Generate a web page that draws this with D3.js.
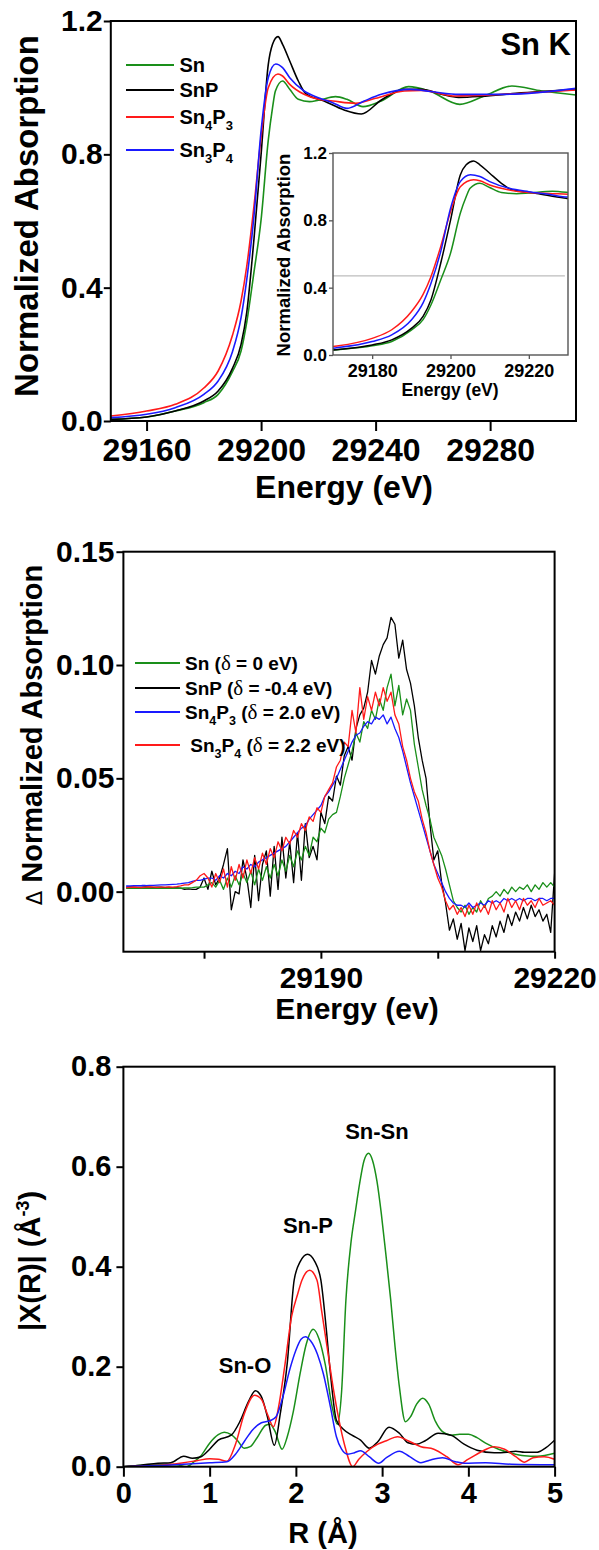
<!DOCTYPE html>
<html><head><meta charset="utf-8">
<script src="https://cdn.jsdelivr.net/npm/d3@7"></script>
<style>body{margin:0;background:#fff}</style>
</head><body><svg id="c" width="599" height="1550" style="display:block;background:#fff"></svg>
<script>
const FONT = "'Liberation Sans', Arial, sans-serif";
const seriesNames = ["Sn", "SnP", "Sn4P3", "Sn3P4"];
const colors = {Sn: "#1a8f1a", SnP: "#000000", Sn4P3: "#ff1a1a", Sn3P4: "#1a1aff"};
const colors2 = {Sn: "#1a8f1a", SnP: "#000000", Sn4P3: "#1a1aff", Sn3P4: "#ff1a1a"};

// Panel 1: XANES (energy eV, normalized absorption)
const xanesSn = [[29147.5,0.005],[29160,0.012],[29170,0.03],[29180,0.055],[29185,0.08],[29190,0.148],[29193,0.21],[29195,0.297],[29197.5,0.446],[29200,0.604],[29202.5,0.842],[29204,0.94],[29205,0.99],[29207.5,1.02],[29210,0.995],[29213,0.965],[29216.9,0.958],[29220,0.962],[29226,0.973],[29230,0.965],[29235.6,0.943],[29242,0.96],[29251.5,1.003],[29258.8,0.99],[29269.4,0.95],[29278,0.975],[29287.6,1.005],[29298,0.99],[29310,0.978]];
const xanesSnP = [[29147.5,0.005],[29160,0.012],[29170,0.03],[29180,0.06],[29185,0.09],[29190,0.158],[29193,0.23],[29195,0.327],[29197.5,0.545],[29200,0.80],[29202.5,1.069],[29204,1.13],[29205.9,1.153],[29207.5,1.13],[29210,1.08],[29213,1.02],[29215.5,0.983],[29222,0.96],[29229,0.933],[29235,0.921],[29242,0.963],[29250,0.995],[29256,0.995],[29263,0.98],[29269,0.971],[29277,0.974],[29289,0.983],[29310,0.995]];
const xanesSn4P3 = [[29147.5,0.015],[29160,0.03],[29170,0.05],[29180,0.099],[29185,0.15],[29190,0.257],[29193,0.36],[29195,0.465],[29197.5,0.644],[29200,0.851],[29202.5,1.0],[29205.9,1.041],[29207.5,1.035],[29210,1.01],[29215,0.98],[29220,0.965],[29225,0.96],[29233,0.953],[29240,0.968],[29250,0.99],[29256,0.992],[29268,0.975],[29280,0.978],[29295,0.985],[29310,0.993]];
const xanesSn3P4 = [[29147.5,0.01],[29160,0.02],[29170,0.04],[29180,0.08],[29185,0.12],[29190,0.208],[29193,0.31],[29195,0.425],[29197.5,0.614],[29200,0.871],[29202.5,1.03],[29205.1,1.071],[29207.5,1.06],[29210,1.03],[29215,0.99],[29220,0.97],[29225,0.955],[29230,0.938],[29236,0.96],[29242,0.98],[29252,0.995],[29268,0.98],[29285,0.98],[29310,0.998]];
const xanesTicks = [29160, 29200, 29240, 29280];
const xanesYTicks = [0, 0.4, 0.8, 1.2];
const insetTicks = [29180, 29200, 29220];
const insetRef = 0.47;

// Panel 2: difference spectra
const energyDiff = [29165,29165.5,29166,29166.5,29167,29167.5,29168,29168.5,29169,29169.5,
29170,29170.5,29171,29171.5,29172,29172.5,29173,29173.5,29174,29174.5,
29175,29175.5,29176,29176.5,29177,29177.5,29178,29178.5,29179,29179.5,
29180,29180.5,29181,29181.5,29182,29182.5,29183,29183.5,29184,29184.5,
29185,29185.5,29186,29186.5,29187,29187.5,29188,29188.5,29189,29189.5,
29190,29190.5,29191,29191.5,29192,29192.5,29193,29193.5,29194,29194.5,
29195,29195.5,29196,29196.5,29197,29197.5,29198,29198.5,29199,29199.5,
29200,29200.5,29201,29201.5,29202,29202.5,29203,29203.5,29204,29204.5,
29205,29205.5,29206,29206.5,29207,29207.5,29208,29208.5,29209,29209.5,
29210,29210.5,29211,29211.5,29212,29212.5,29213,29213.5,29214,29214.5,
29215,29215.5,29216,29216.5,29217,29217.5,29218,29218.5,29219,29219.5,
29220];
const diffSn = [0.0015,0.0015,0.0014,0.0015,0.0016,0.0015,0.0014,0.0015,0.0016,0.0015,
0.0015,0.0016,0.0015,0.0014,0.0015,0.0016,0.0017,0.0018,0.002,0.002,
0.002,0.003,0.004,0.002,0.005,0.001,0.006,0.002,0.007,0.003,
0.008,0.004,0.009,0.003,0.01,0.005,0.011,0.006,0.012,0.007,
0.014,0.009,0.016,0.011,0.018,0.014,0.02,0.016,0.024,0.022,
0.028,0.026,0.032,0.034,0.035,0.042,0.05,0.056,0.062,0.07,
0.066,0.075,0.072,0.08,0.076,0.085,0.08,0.09,0.096,0.082,
0.091,0.078,0.085,0.08,0.065,0.055,0.045,0.038,0.032,0.024,
0.02,0.016,0.01,0.003,-0.004,-0.007,-0.009,-0.006,-0.01,-0.007,
-0.009,-0.004,-0.007,-0.003,-0.002,0.0,-0.002,0.001,-0.001,0.002,
0.0,0.002,0.001,0.003,0.0,0.003,0.001,0.004,0.002,0.004,
0.002];
const diffSnP = [0.002,0.0021,0.002,0.0019,0.002,0.0021,0.002,0.0019,0.002,0.002,
0.0018,0.0019,0.0017,0.0016,0.0015,0.001,0.0012,0.001,0.001,0.002,
0.006,0.001,0.009,0.003,0.006,0.012,0.019,-0.008,0.0,-0.001,
0.014,0.006,-0.007,0.016,-0.004,0.012,0.018,-0.002,0.02,0.001,
0.024,0.006,0.022,0.004,0.026,0.005,0.03,0.015,0.02,0.014,
0.035,0.03,0.042,0.04,0.051,0.047,0.06,0.064,0.058,0.072,
0.078,0.081,0.088,0.102,0.096,0.104,0.109,0.112,0.121,0.118,
0.103,0.111,0.098,0.092,0.082,0.068,0.058,0.05,0.03,0.014,
0.018,0.004,-0.005,-0.017,-0.012,-0.021,-0.014,-0.026,-0.016,-0.022,
-0.015,-0.026,-0.019,-0.023,-0.015,-0.02,-0.013,-0.018,-0.01,-0.015,
-0.009,-0.013,-0.007,-0.012,-0.006,-0.011,-0.008,-0.013,-0.01,-0.018,
0.008];
const diffSn4P3 = [0.0025,0.0025,0.0026,0.0026,0.0027,0.0027,0.0028,0.0028,0.0029,0.003,
0.003,0.0031,0.0032,0.0033,0.0035,0.0038,0.004,0.0045,0.005,0.005,
0.0055,0.006,0.006,0.005,0.007,0.006,0.008,0.007,0.009,0.008,
0.011,0.01,0.012,0.011,0.013,0.014,0.015,0.016,0.017,0.018,
0.019,0.02,0.022,0.024,0.026,0.028,0.029,0.032,0.034,0.036,
0.038,0.042,0.044,0.047,0.05,0.054,0.058,0.062,0.066,0.069,
0.07,0.073,0.075,0.074,0.077,0.076,0.078,0.074,0.077,0.072,
0.068,0.062,0.055,0.048,0.042,0.036,0.03,0.024,0.018,0.012,
0.008,0.004,0.0,-0.003,-0.005,-0.006,-0.006,-0.007,-0.005,-0.007,
-0.006,-0.005,-0.006,-0.004,-0.005,-0.004,-0.005,-0.003,-0.004,-0.003,
-0.004,-0.003,-0.004,-0.003,-0.003,-0.004,-0.003,-0.003,-0.004,-0.003,
-0.003];
const diffSn3P4 = [0.0018,0.0019,0.002,0.0019,0.0018,0.002,0.0021,0.002,0.0019,0.002,
0.002,0.0021,0.002,0.0022,0.0025,0.003,0.003,0.004,0.005,0.007,
0.008,0.006,0.002,0.008,0.004,0.01,0.002,0.011,0.005,0.012,
0.006,0.014,0.008,0.015,0.01,0.017,0.012,0.019,0.015,0.022,
0.018,0.024,0.021,0.027,0.024,0.03,0.027,0.033,0.031,0.037,
0.035,0.042,0.045,0.048,0.055,0.058,0.066,0.064,0.08,0.07,
0.09,0.076,0.086,0.08,0.088,0.082,0.09,0.084,0.088,0.078,
0.074,0.064,0.058,0.05,0.044,0.04,0.032,0.026,0.018,0.012,
0.006,0.002,-0.004,-0.008,-0.006,-0.01,-0.007,-0.011,-0.006,-0.01,
-0.005,-0.009,-0.006,-0.01,-0.004,-0.008,-0.005,-0.009,-0.003,-0.007,
-0.004,-0.008,-0.003,-0.006,-0.004,-0.007,-0.003,-0.006,-0.005,-0.004,
-0.006];
const diffXTicks = [29175, 29190, 29205, 29220];
const diffXLabels = [29190, 29220];
const diffYTicks = [0, 0.05, 0.10, 0.15];
const diffLegend = [
  {key: "Sn", parts: [["Sn"]], tail: " = 0 eV)"},
  {key: "SnP", parts: [["SnP"]], tail: " = -0.4 eV)"},
  {key: "Sn4P3", parts: [["Sn"],["4","sub"],["P"],["3","sub"]], tail: " = 2.0 eV)"},
  {key: "Sn3P4", parts: [[" Sn"],["3","sub"],["P"],["4","sub"]], tail: " = 2.2 eV)"}
];

// Panel 3: FT-EXAFS (R in Å, |X(R)|)
const ftSn = [[0,0],[0.3,0.004],[0.5,0.005],[0.62,0.004],[0.73,0.0],[0.82,0.01],[0.9,0.022],[1.0,0.047],[1.1,0.064],[1.17,0.069],[1.25,0.064],[1.32,0.053],[1.4,0.037],[1.47,0.04],[1.55,0.058],[1.65,0.083],[1.7,0.085],[1.76,0.07],[1.84,0.035],[1.9,0.06],[1.97,0.11],[2.05,0.187],[2.12,0.245],[2.2,0.275],[2.27,0.255],[2.34,0.205],[2.42,0.12],[2.48,0.085],[2.53,0.15],[2.58,0.333],[2.64,0.45],[2.69,0.51],[2.74,0.567],[2.79,0.612],[2.843,0.627],[2.89,0.612],[2.94,0.571],[2.99,0.507],[3.04,0.43],[3.1,0.333],[3.15,0.24],[3.2,0.16],[3.27,0.09],[3.33,0.1],[3.4,0.125],[3.47,0.137],[3.54,0.125],[3.62,0.09],[3.7,0.07],[3.8,0.063],[3.9,0.065],[4.0,0.065],[4.1,0.058],[4.2,0.047],[4.35,0.035],[4.5,0.027],[4.65,0.022],[4.8,0.021],[5.0,0.027]];
const ftSnP = [[0,0],[0.2,0.003],[0.4,0.007],[0.55,0.008],[0.7,0.021],[0.8,0.017],[0.9,0.02],[1.0,0.035],[1.1,0.053],[1.25,0.063],[1.35,0.09],[1.45,0.13],[1.53,0.152],[1.6,0.14],[1.67,0.1],[1.75,0.043],[1.82,0.107],[1.9,0.207],[1.98,0.373],[2.05,0.41],[2.135,0.425],[2.22,0.41],[2.29,0.373],[2.35,0.28],[2.4,0.187],[2.47,0.093],[2.55,0.075],[2.65,0.063],[2.75,0.053],[2.85,0.037],[2.95,0.05],[3.08,0.079],[3.2,0.067],[3.3,0.048],[3.4,0.045],[3.5,0.052],[3.65,0.067],[3.8,0.063],[3.95,0.045],[4.1,0.033],[4.3,0.028],[4.45,0.029],[4.55,0.031],[4.65,0.029],[4.8,0.029],[4.9,0.038],[5.0,0.053]];
const ftSn4P3 = [[0,0],[0.3,0.002],[0.5,0.004],[0.7,0.008],[0.85,0.012],[1.0,0.016],[1.1,0.015],[1.2,0.011],[1.3,0.045],[1.4,0.105],[1.52,0.143],[1.6,0.135],[1.67,0.105],[1.74,0.08],[1.8,0.12],[1.87,0.2],[1.95,0.3],[2.02,0.345],[2.07,0.373],[2.16,0.393],[2.245,0.373],[2.3,0.31],[2.37,0.23],[2.44,0.15],[2.5,0.093],[2.57,0.04],[2.66,0.0],[2.73,0.015],[2.82,0.03],[2.95,0.045],[3.05,0.052],[3.18,0.06],[3.3,0.052],[3.45,0.04],[3.6,0.035],[3.75,0.02],[3.88,0.004],[4.0,0.015],[4.15,0.03],[4.3,0.04],[4.42,0.035],[4.55,0.02],[4.65,0.009],[4.75,0.018],[4.88,0.02],[5.0,0.015]];
const ftSn3P4 = [[0,0],[0.3,0.002],[0.5,0.003],[0.7,0.005],[0.9,0.007],[1.0,0.008],[1.2,0.01],[1.3,0.025],[1.4,0.05],[1.5,0.074],[1.6,0.088],[1.7,0.092],[1.77,0.1],[1.85,0.14],[1.93,0.195],[2.0,0.233],[2.06,0.255],[2.11,0.26],[2.17,0.252],[2.25,0.225],[2.32,0.185],[2.4,0.12],[2.47,0.06],[2.53,0.035],[2.6,0.025],[2.68,0.028],[2.75,0.032],[2.85,0.02],[2.96,0.007],[3.05,0.018],[3.2,0.031],[3.32,0.02],[3.45,0.008],[3.55,0.013],[3.7,0.018],[3.85,0.01],[3.95,0.007],[4.2,0.008],[4.5,0.005],[5.0,0.004]];
const ftXTicks = [0, 1, 2, 3, 4, 5];
const ftYTicks = [0, 0.2, 0.4, 0.6, 0.8];
const ftLabels = [{t: "Sn-Sn", r: 2.94, v: 0.655}, {t: "Sn-P", r: 2.14, v: 0.467}, {t: "Sn-O", r: 1.41, v: 0.187}];

const svg = d3.select("#c");

function styleAxis(g, fs, color) {
  g.attr("font-family", FONT).attr("font-size", fs).attr("font-weight", "bold");
  g.select(".domain").remove();
  g.selectAll(".tick line").attr("stroke", color || "#000").attr("stroke-width", 2);
  g.selectAll(".tick text").attr("fill", "#000");
}
function frame(x0, y0, x1, y1, color, w) {
  svg.append("rect").attr("x", x0).attr("y", y0).attr("width", x1 - x0).attr("height", y1 - y0)
    .attr("fill", "none").attr("stroke", color).attr("stroke-width", w);
}
function txt(x, y, s, fs, anchor, rot) {
  const t = svg.append("text").attr("font-family", FONT).attr("font-weight", "bold")
    .attr("font-size", fs).attr("text-anchor", anchor || "middle").attr("fill", "#000");
  if (rot) t.attr("transform", `translate(${x},${y}) rotate(-90)`);
  else t.attr("x", x).attr("y", y);
  if (s !== null) t.text(s);
  return t;
}

// ============ PANEL 1 ============
const x1 = d3.scaleLinear().domain([29147.5, 29310]).range([110.8, 576]);
const y1 = d3.scaleLinear().domain([0, 1.2]).range([421, 21]);
svg.append("defs").append("clipPath").attr("id", "clip1")
  .append("rect").attr("x", 110.8).attr("y", 21).attr("width", 576 - 110.8).attr("height", 400);
const line1 = d3.line().x(d => x1(d[0])).y(d => y1(d[1])).curve(d3.curveMonotoneX);
const xanesAll = {Sn: xanesSn, SnP: xanesSnP, Sn4P3: xanesSn4P3, Sn3P4: xanesSn3P4};
const g1 = svg.append("g").attr("clip-path", "url(#clip1)");
["Sn", "SnP", "Sn4P3", "Sn3P4"].forEach(k => {
  g1.append("path").datum(xanesAll[k]).attr("d", line1).attr("fill", "none")
    .attr("stroke", colors[k]).attr("stroke-width", 1.6);
});
frame(110.8, 21, 576, 421, "#000", 2);
styleAxis(svg.append("g").attr("transform", "translate(0,421)")
  .call(d3.axisBottom(x1).tickValues(xanesTicks).tickSize(10).tickPadding(7).tickFormat(d3.format("d"))), 32);
styleAxis(svg.append("g").attr("transform", "translate(110.8,0)")
  .call(d3.axisLeft(y1).tickValues(xanesYTicks).tickSize(7).tickPadding(1).tickFormat(d3.format(".1f"))), 30);
txt(344, 498, "Energy (eV)", 32);
txt(38, 216, "Normalized Absorption", 33, "middle", true);
txt(571, 55, "Sn K", 31, "end");

// legend panel 1
const leg1Y = [65, 90, 117, 150];
const leg1Parts = {Sn: [["Sn"]], SnP: [["SnP"]], Sn4P3: [["Sn"],["4","sub"],["P"],["3","sub"]], Sn3P4: [["Sn"],["3","sub"],["P"],["4","sub"]]};
seriesNames.forEach((k, i) => {
  svg.append("line").attr("x1", 126).attr("x2", 174).attr("y1", leg1Y[i]).attr("y2", leg1Y[i])
    .attr("stroke", colors[k]).attr("stroke-width", 1.8);
  const t = txt(179.5, leg1Y[i] + 7, null, 20, "start");
  let sub = false;
  leg1Parts[k].forEach(p => {
    const ts = t.append("tspan").text(p[0]);
    if (p[1] === "sub") { ts.attr("font-size", 13).attr("dy", 6); sub = true; }
    else if (sub) { ts.attr("dy", -6); sub = false; }
  });
});

// inset
const xi = d3.scaleLinear().domain([29170, 29230]).range([333, 568]);
const yi = d3.scaleLinear().domain([0, 1.2]).range([355, 153]);
svg.append("rect").attr("x", 333).attr("y", 153).attr("width", 235).attr("height", 202).attr("fill", "#fff");
svg.select("defs").append("clipPath").attr("id", "clipi")
  .append("rect").attr("x", 333).attr("y", 153).attr("width", 235).attr("height", 202);
svg.append("line").attr("x1", xi(29170)).attr("x2", xi(29229.2)).attr("y1", yi(insetRef)).attr("y2", yi(insetRef))
  .attr("stroke", "#bdbdbd").attr("stroke-width", 1.3);
const linei = d3.line().x(d => xi(d[0])).y(d => yi(d[1])).curve(d3.curveMonotoneX);
const gi = svg.append("g").attr("clip-path", "url(#clipi)");
["Sn", "SnP", "Sn4P3", "Sn3P4"].forEach(k => {
  gi.append("path").datum(xanesAll[k]).attr("d", linei).attr("fill", "none")
    .attr("stroke", colors[k]).attr("stroke-width", 1.5);
});
frame(333, 153, 568, 355, "#555", 1.4);
const ax1 = svg.append("g").attr("transform", "translate(0,355)")
  .call(d3.axisBottom(xi).tickValues(insetTicks).tickSize(4).tickPadding(5).tickFormat(d3.format("d")));
styleAxis(ax1, 18, "#555"); ax1.selectAll(".tick line").attr("stroke-width", 1.3);
const ay1 = svg.append("g").attr("transform", "translate(333,0)")
  .call(d3.axisLeft(yi).tickValues(xanesYTicks).tickSize(4).tickPadding(2).tickFormat(d3.format(".1f")));
styleAxis(ay1, 17, "#555"); ay1.selectAll(".tick line").attr("stroke-width", 1.3);
txt(450, 396, "Energy (eV)", 17.5);
txt(290, 255, "Normalized Absorption", 18.5, "middle", true);

// ============ PANEL 2 ============
const x2 = d3.scaleLinear().domain([29164.65, 29220]).range([123.4, 554.6]);
const y2 = d3.scaleLinear().domain([-0.0265, 0.15]).range([951.7, 551.7]);
svg.select("defs").append("clipPath").attr("id", "clip2")
  .append("rect").attr("x", 123.4).attr("y", 551.7).attr("width", 554.6 - 123.4).attr("height", 400);
const diffAll = {Sn: diffSn, SnP: diffSnP, Sn4P3: diffSn4P3, Sn3P4: diffSn3P4};
const line2 = d3.line().x((d, i) => x2(energyDiff[i])).y(d => y2(d));
const g2 = svg.append("g").attr("clip-path", "url(#clip2)");
["SnP", "Sn", "Sn4P3", "Sn3P4"].forEach(k => {
  g2.append("path").datum(diffAll[k]).attr("d", line2).attr("fill", "none")
    .attr("stroke", colors2[k]).attr("stroke-width", 1.3).attr("stroke-linejoin", "round");
});
frame(123.4, 551.7, 554.6, 951.7, "#000", 2);
styleAxis(svg.append("g").attr("transform", "translate(0,951.7)")
  .call(d3.axisBottom(x2).tickValues(diffXTicks).tickSize(7).tickPadding(8)
    .tickFormat(d => diffXLabels.includes(d) ? d3.format("d")(d) : "")), 30);
styleAxis(svg.append("g").attr("transform", "translate(123.4,0)")
  .call(d3.axisLeft(y2).tickValues(diffYTicks).tickSize(7).tickPadding(2).tickFormat(d3.format(".2f"))), 30);
txt(357, 1019, "Energy (ev)", 30);
const t2 = txt(42, 735, null, 29, "middle", true);
t2.append("tspan").text("Δ").attr("font-weight", "normal").attr("font-family", "'DejaVu Sans', sans-serif").attr("font-size", 21);
t2.append("tspan").text(" Normalized Absorption");

// legend panel 2
const leg2Y = [663, 688, 712, 745];
diffLegend.forEach((e, i) => {
  svg.append("line").attr("x1", 135).attr("x2", 180).attr("y1", leg2Y[i]).attr("y2", leg2Y[i])
    .attr("stroke", colors2[e.key]).attr("stroke-width", 1.8);
  const t = txt(185, leg2Y[i] + 7, null, 19, "start").attr("xml:space", "preserve").style("white-space", "pre");
  let sub = false;
  e.parts.forEach(p => {
    const ts = t.append("tspan").text(p[0]);
    if (p[1] === "sub") { ts.attr("font-size", 12.5).attr("dy", 6); sub = true; }
    else if (sub) { ts.attr("dy", -6); sub = false; }
  });
  const o = t.append("tspan").text(" (");
  if (sub) { o.attr("dy", -6); sub = false; }
  t.append("tspan").text("δ").attr("font-family", "'Liberation Serif', serif").attr("font-weight", "normal").attr("font-size", 21);
  t.append("tspan").text(e.tail);
});

// ============ PANEL 3 ============
const x3 = d3.scaleLinear().domain([0, 5]).range([123.4, 554.6]);
const y3 = d3.scaleLinear().domain([0, 0.8]).range([1466.7, 1066.7]);
svg.select("defs").append("clipPath").attr("id", "clip3")
  .append("rect").attr("x", 123.4).attr("y", 1066.7).attr("width", 554.6 - 123.4).attr("height", 400);
const ftAll = {Sn: ftSn, SnP: ftSnP, Sn4P3: ftSn4P3, Sn3P4: ftSn3P4};
const line3 = d3.line().x(d => x3(d[0])).y(d => y3(d[1])).curve(d3.curveMonotoneX);
const g3 = svg.append("g").attr("clip-path", "url(#clip3)");
["Sn", "SnP", "Sn4P3", "Sn3P4"].forEach(k => {
  g3.append("path").datum(ftAll[k]).attr("d", line3).attr("fill", "none")
    .attr("stroke", colors[k]).attr("stroke-width", 1.5);
});
frame(123.4, 1066.7, 554.6, 1466.7, "#000", 2);
styleAxis(svg.append("g").attr("transform", "translate(0,1466.7)")
  .call(d3.axisBottom(x3).tickValues(ftXTicks).tickSize(10).tickPadding(6).tickFormat(d3.format("d"))), 29);
styleAxis(svg.append("g").attr("transform", "translate(123.4,0)")
  .call(d3.axisLeft(y3).tickValues(ftYTicks).tickSize(7).tickPadding(5).tickFormat(d3.format(".1f"))), 29);
txt(323, 1543, "R (Å)", 29);
const t3 = txt(40, 1261, null, 29, "middle", true);
t3.append("tspan").text("|X(R)| (Å");
t3.append("tspan").text("-3").attr("font-size", 18).attr("dy", -11);
t3.append("tspan").text(")").attr("dy", 11);
ftLabels.forEach(l => txt(x3(l.r), y3(l.v), l.t, 22));
</script>
</body></html>
